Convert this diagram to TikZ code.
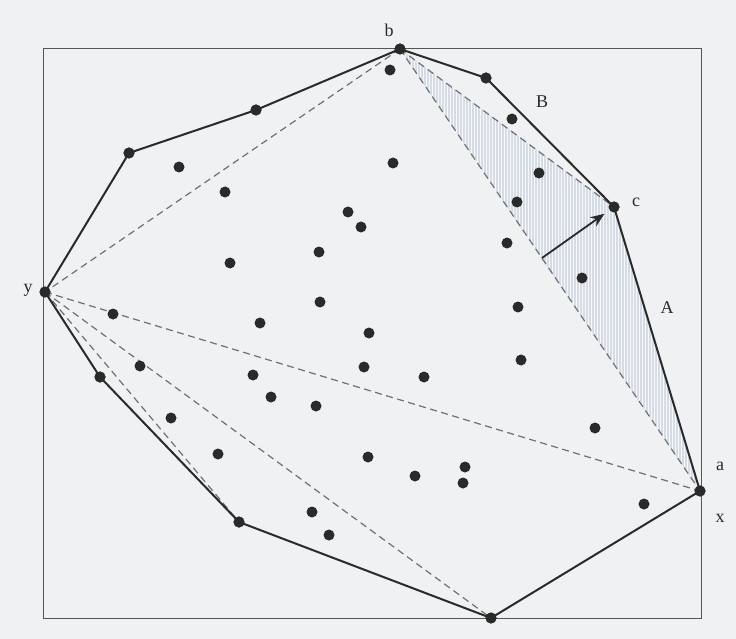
\documentclass[tikz,border=0pt]{standalone}
\usepackage{fontspec}
\setmainfont{Liberation Serif}
\usetikzlibrary{calc,arrows.meta,patterns}
\definecolor{bgcol}{HTML}{EFF1F3}
\definecolor{inkcol}{HTML}{2A2A2A}
\definecolor{dashcol}{HTML}{707070}
\definecolor{shadecol}{HTML}{D6DCE6}
\begin{document}
\begin{tikzpicture}[x=1pt,y=-1pt,
  pt/.style={circle,fill=inkcol,inner sep=0pt,minimum size=11pt},
  hull/.style={draw=inkcol,line width=2pt,line join=round},
  dline/.style={draw=dashcol,line width=1.2pt,dash pattern=on 7pt off 4.5pt},
  lbl/.style={text=inkcol,font=\fontsize{18}{20}\selectfont,inner sep=0pt}]
\useasboundingbox[fill=bgcol] (0,0) rectangle (736,639);
% frame
\draw[draw=inkcol!80,line width=1pt] (43,49) rectangle (701,618);
% hull vertices
\node[pt] (b) at (400,49) {};
\node[pt] (h1) at (486,78) {};
\node[pt] (c) at (614,207) {};
\node[pt] (a) at (700,491) {};
\node[pt] (h2) at (491,618) {};
\node[pt] (h3) at (239,522) {};
\node[pt] (h4) at (100,377) {};
\node[pt] (y) at (45,292) {};
\node[pt] (h5) at (129,153) {};
\node[pt] (h6) at (256,110) {};
% shaded triangle
\fill[shadecol] (b.center) -- (c.center) -- (a.center) -- cycle;
\fill[pattern=vertical lines,pattern color=white!80!shadecol] (b.center) -- (c.center) -- (a.center) -- cycle;
% dashed lines
\draw[dline] (b.center) -- (c.center);
\draw[dline] (b.center) -- (a.center);
\draw[dline] (b.center) -- (y.center);
\draw[dline] (y.center) -- (a.center);
\draw[dline] (y.center) -- (h2.center);
\draw[dline] (y.center) -- (h3.center);
% hull
\draw[hull] (b.center) -- (h1.center) -- (c.center) -- (a.center) -- (h2.center)
  -- (h3.center) -- (h4.center) -- (y.center) -- (h5.center) -- (h6.center) -- cycle;
% redraw hull vertices on top
\foreach \n in {b,h1,c,a,h2,h3,h4,y,h5,h6} \fill[inkcol] (\n) circle (5.5pt);
% arrow
\coordinate (m) at ($(b)!0.473!(a)$);
\draw[draw=inkcol,line width=1.8pt,-{Stealth[length=14pt,width=11pt]},shorten >=6pt] (m) -- (c);
% interior points
\foreach \x/\y [count=\i] in {390/70,512/119,539/173,517/202,507/243,582/278,518/307,521/360,595/428,644/504,
  179/167,225/192,393/163,348/212,361/227,319/252,230/263,320/302,260/323,369/333,
  364/367,424/377,253/375,271/397,316/406,113/314,140/366,171/418,218/454,368/457,
  415/476,465/467,463/483,312/512,329/535}
  \node[pt] (p\i) at (\x,\y) {};
% labels
\node[lbl] (lb) at (389,30) {b};
\node[lbl] (lB) at (542,102) {B};
\node[lbl] (lc) at (636,202) {c};
\node[lbl] (lA) at (667,308) {A};
\node[lbl] (la) at (720,466) {a};
\node[lbl] (lx) at (720,518) {x};
\node[lbl] (ly) at (28,290) {y};
\end{tikzpicture}
\end{document}
